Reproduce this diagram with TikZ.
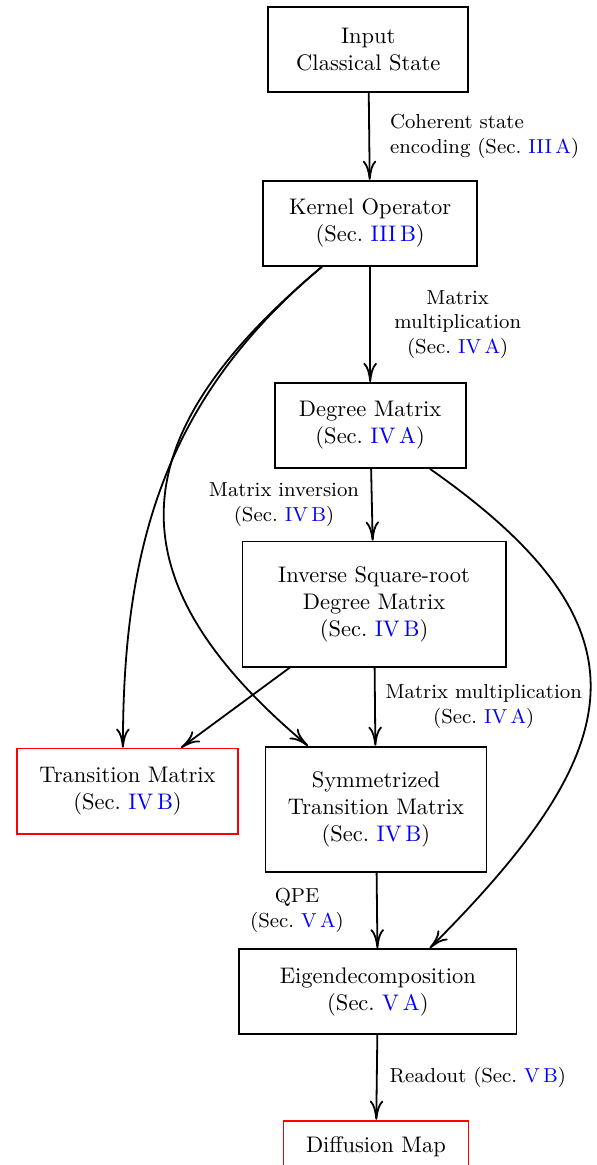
\documentclass[tikz,border=0pt]{standalone}
\usepackage{xcolor}
\usetikzlibrary{arrows.meta,positioning}
\newcommand{\secnum}[1]{(Sec.~\textcolor{blue}{#1})}
\tikzset{
  procnode/.style={rectangle,draw=black,thick,align=center,
    minimum height=37.8pt,inner sep=0pt},
  tallnode/.style={procnode,minimum height=55.6pt},
  outnode/.style={procnode,draw=red},
  arr/.style={-{Computer Modern Rightarrow[length=8.5pt,width=6pt]},thick},
  lbl/.style={font=\small,align=center}
}
\begin{document}
\begin{tikzpicture}[node distance=1.2cm]
  \useasboundingbox (-5.75,0.77) rectangle (3.56,-17.42);

  % main chain
  \node[procnode,minimum width=88.9pt] (input) {Input\\Classical State};
  \node[procnode,minimum width=95.1pt,below=1.36cm of input,xshift=0.03cm]
    (kernel) {Kernel Operator\\\secnum{III\,B}};
  \node[procnode,minimum width=84.9pt,below=1.80cm of kernel]
    (degree) {Degree Matrix\\\secnum{IV\,A}};
  \node[tallnode,minimum width=116.9pt,below=1.12cm of degree,xshift=0.06cm]
    (invsqrt) {Inverse Square-root\\Degree Matrix\\\secnum{IV\,B}};
  \node[tallnode,minimum width=98.2pt,below=1.22cm of invsqrt,xshift=0.03cm]
    (symm) {Symmetrized\\Transition Matrix\\\secnum{IV\,B}};
  \node[procnode,minimum width=123.1pt,below=1.18cm of symm,xshift=0.03cm]
    (eigen) {Eigendecomposition\\\secnum{V\,A}};
  \node[outnode,minimum width=82.2pt,minimum height=23pt,below=1.32cm of eigen,xshift=-0.03cm]
    (dmap) {Diffusion Map};

  % side output
  \node[outnode,minimum width=98.2pt,left=0.40cm of symm.north west,anchor=north east,yshift=-0.03cm]
    (trans) {Transition Matrix\\\secnum{IV\,B}};

  % straight steps
  \draw[arr] (input) -- (kernel)
    node[lbl,midway,right=5.5pt,align=left] {Coherent state\\encoding \secnum{III\,A}};
  \draw[arr] (kernel) -- (degree)
    node[lbl,midway,right=7pt] {Matrix\\multiplication\\\secnum{IV\,A}};
  \draw[arr] (degree) -- (invsqrt)
    node[lbl,midway,left=2pt] {Matrix inversion\\\secnum{IV\,B}};
  \draw[arr] (invsqrt) -- (symm)
    node[lbl,midway,right=1pt] {Matrix multiplication\\\secnum{IV\,A}};
  \draw[arr] (symm) -- (eigen)
    node[lbl,midway,left=11pt] {QPE\\\secnum{V\,A}};
  \draw[arr] (eigen) -- (dmap)
    node[lbl,midway,right=2pt] {Readout \secnum{V\,B}};

  % curved and side links
  \draw[arr] (kernel.-138) to[out=-140,in=90] (trans.96);
  \draw[arr] (kernel.-138) to[out=-140,in=140,looseness=1.4] (symm.137);
  \draw[arr] (invsqrt.-143) -- (trans.39);
  \draw[arr] (degree.-36) to[out=-35,in=45,looseness=1.5] (eigen.40);

\end{tikzpicture}
\end{document}
